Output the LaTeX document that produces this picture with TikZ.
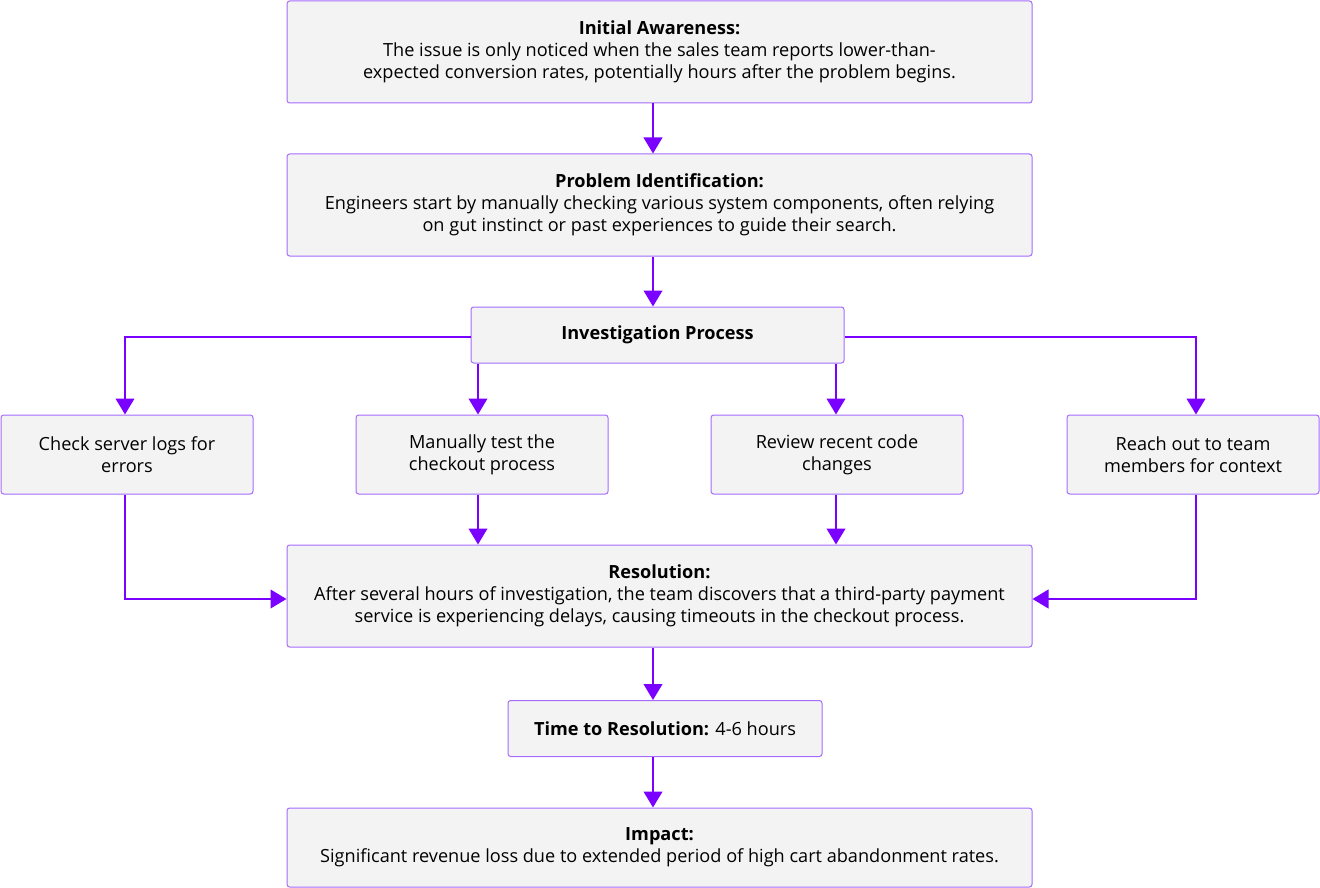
\documentclass[tikz,border=0pt]{standalone}
\usepackage{fontspec}
\setmainfont{Open Sans}
\usepackage{xcolor}
\usetikzlibrary{calc, positioning, arrows.meta}
\definecolor{boxline}{HTML}{A66BFF}
\definecolor{boxfill}{HTML}{F3F3F3}
\definecolor{flow}{HTML}{7A00FF}
\tikzset{
    stage/.style={rectangle, draw=boxline, line width=0.75pt, fill=boxfill, rounded corners=2pt, align=center, minimum width=558.75pt, minimum height=76.5pt, inner sep=0pt, font=\fontsize{13.6}{16.5}\selectfont},
    task/.style={stage, minimum width=189pt, minimum height=59.25pt},
    hub/.style={stage, minimum height=42pt},
    arrow/.style={-{Triangle[width=14pt, length=12pt]}, line width=1.5pt, draw=flow}
}

\begin{document}
\begin{tikzpicture}[x=0.75pt, y=-0.75pt]
    \useasboundingbox (0,0) rectangle (1320,888);
    \coordinate (spine) at (653,0);

    \node[stage] (aware) at (659.5,52) {\textbf{Initial Awareness:}\\The issue is only noticed when the sales team reports lower-than-\\expected conversion rates, potentially hours after the problem begins.};
    \node[stage] (ident) at (659.5,205) {\textbf{Problem Identification:}\\Engineers start by manually checking various system components, often relying\\on gut instinct or past experiences to guide their search.};
    \node[hub, minimum width=279.75pt] (invest) at (657.5,335) {\textbf{Investigation Process}};

    \node[task] (logs) at (127,454.5) {Check server logs for\\errors};
    \node[task] (test) at (482,454.5) {Manually test the\\checkout process};
    \node[task] (code) at (837,454.5) {Review recent code\\changes};
    \node[task] (team) at (1193,454.5) {Reach out to team\\members for context};

    \node[stage] (resol) at (659.5,596) {\textbf{Resolution:}\\After several hours of investigation, the team discovers that a third-party payment\\service is experiencing delays, causing timeouts in the checkout process.};
    \node[hub, minimum width=235.5pt] (ttr) at (665,728.5) {\textbf{Time to Resolution:} 4-6 hours};
    \node[stage, minimum height=59.25pt] (impact) at (659.5,847.5) {\textbf{Impact:}\\Significant revenue loss due to extended period of high cart abandonment rates.};

    % lanes of the four branches
    \coordinate (lane1) at (125,0);
    \coordinate (lane2) at (478,0);
    \coordinate (lane3) at (836,0);
    \coordinate (lane4) at (1196,0);
    \coordinate (split) at (0,337);
    \coordinate (merge) at (0,599);

    % main flow
    \draw[arrow] (aware.south -| spine) -- (ident.north -| spine);
    \draw[arrow] (ident.south -| spine) -- (invest.north -| spine);

    % branches
    \draw[arrow] (invest.west |- split) -| (logs.north -| lane1);
    \draw[arrow] (invest.south -| lane2) -- (test.north -| lane2);
    \draw[arrow] (invest.south -| lane3) -- (code.north -| lane3);
    \draw[arrow] (invest.east |- split) -| (team.north -| lane4);

    % back together
    \draw[arrow] (logs.south -| lane1) |- (resol.west |- merge);
    \draw[arrow] (test.south -| lane2) -- (resol.north -| lane2);
    \draw[arrow] (code.south -| lane3) -- (resol.north -| lane3);
    \draw[arrow] (team.south -| lane4) |- (resol.east |- merge);

    \draw[arrow] (resol.south -| spine) -- (ttr.north -| spine);
    \draw[arrow] (ttr.south -| spine) -- (impact.north -| spine);
\end{tikzpicture}
\end{document}
